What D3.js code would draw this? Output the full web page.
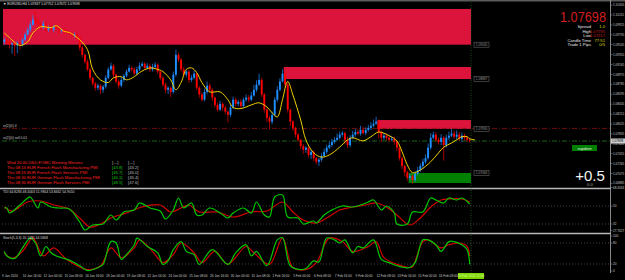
<!DOCTYPE html>
<html>
<head>
<meta charset="utf-8">
<script src="https://cdn.jsdelivr.net/npm/d3@7"></script>
<style>
html, body { margin: 0; padding: 0; background: #000; }
svg { display: block; font-family: "Liberation Sans", Arial, sans-serif; }
</style>
</head>
<body>
<svg id="chart" width="625" height="280"></svg>
<script>
// EURUSD H4 candles (close per bar, open = previous close)
const firstOpen = 1.0960;
const closes = [
  1.0964,1.0960,1.0955,1.0957,1.0953,1.0958,1.0955,1.0964,1.0974,1.0983,
  1.0993,1.1003,1.0999,1.0993,1.0987,1.0995,1.0983,1.0987,1.0983,1.0989,
  1.0985,1.0982,1.0983,1.0980,1.0978,1.0976,1.0972,1.0974,1.0968,1.0949,
  1.0935,1.0922,1.0907,1.0891,1.0880,1.0872,1.0876,1.0868,1.0874,1.0891,
  1.0907,1.0914,1.0897,1.0884,1.0876,1.0887,1.0895,1.0903,1.0910,1.0907,
  1.0899,1.0907,1.0914,1.0918,1.0910,1.0914,1.0907,1.0912,1.0916,1.0903,
  1.0891,1.0878,1.0868,1.0872,1.0864,1.0897,1.0935,1.0926,1.0907,1.0897,
  1.0903,1.0887,1.0891,1.0899,1.0872,1.0859,1.0849,1.0864,1.0876,1.0868,
  1.0853,1.0839,1.0830,1.0841,1.0834,1.0826,1.0820,1.0834,1.0849,1.0841,
  1.0845,1.0837,1.0849,1.0853,1.0849,1.0857,1.0868,1.0878,1.0887,1.0859,
  1.0830,1.0814,1.0807,1.0820,1.0849,1.0868,1.0884,1.0899,1.0878,1.0830,
  1.0807,1.0795,1.0782,1.0772,1.0760,1.0753,1.0757,1.0743,1.0749,1.0737,
  1.0730,1.0734,1.0741,1.0749,1.0757,1.0762,1.0768,1.0772,1.0776,1.0782,
  1.0785,1.0772,1.0762,1.0776,1.0782,1.0787,1.0784,1.0791,1.0785,1.0791,
  1.0795,1.0799,1.0803,1.0807,1.0787,1.0776,1.0780,1.0776,1.0772,1.0774,
  1.0768,1.0757,1.0737,1.0722,1.0710,1.0699,1.0703,1.0695,1.0707,1.0714,
  1.0722,1.0730,1.0737,1.0757,1.0776,1.0782,1.0772,1.0768,1.0776,1.0762,
  1.0776,1.0780,1.0784,1.0778,1.0782,1.0774,1.0780,1.0776,1.0772,1.0770
];
// wick lengths in pips above / below the body
const upWick = [
  4,3,5,2,3,4,2,3,4,5,6,8,15,6,4,5,3,4,6,3,
  4,3,2,3,5,3,2,4,3,2,3,2,4,3,2,3,4,2,3,5,
  4,6,3,2,4,5,3,4,6,3,4,5,6,4,3,5,4,6,5,3,
  2,3,4,3,2,6,10,4,3,5,4,3,5,6,2,3,4,6,8,4,
  3,2,4,6,3,4,2,5,6,4,3,5,4,6,5,7,9,8,12,4,
  3,2,4,6,5,7,6,8,4,3,2,3,2,3,2,4,3,2,4,3,
  2,4,5,6,5,7,6,5,8,6,4,3,6,5,7,6,5,8,6,5,
  6,7,8,9,4,3,5,4,3,5,4,3,2,3,2,3,4,2,5,6,
  5,6,7,8,9,6,5,4,7,3,6,8,9,6,8,5,6,4,3,4
];
const dnWick = [
  6,5,8,18,20,15,10,4,3,2,4,3,5,6,4,3,5,4,3,5,
  3,4,5,3,4,3,5,4,3,6,5,4,3,5,4,6,5,8,6,4,
  3,2,5,4,6,3,4,3,2,4,3,4,3,2,4,3,5,4,3,4,
  5,4,6,8,10,3,4,5,4,3,5,6,4,3,5,6,4,3,4,5,
  6,5,4,3,6,5,15,4,3,5,4,6,3,4,5,3,2,4,3,5,
  6,8,15,5,3,4,3,2,5,6,8,6,5,4,6,8,6,5,8,6,
  5,8,4,3,4,3,4,3,2,3,4,8,6,4,3,4,3,4,3,4,
  3,4,3,2,12,8,4,5,4,3,5,6,5,6,8,6,5,7,4,3,
  4,5,4,3,4,3,4,5,6,30,5,4,3,4,5,4,6,5,4,3
];

// moving average [bar, price]
const maPoints = [[0,1.0977],[2,1.0968],[6,1.0953],[9,1.0960],[11,1.0977],[14,1.0989],[18,1.0987],[20,1.0991],[23,1.0980],[25,1.0978],[29,1.0964],[32,1.0945],[34,1.0907],[37,1.0887],[40,1.0882],[42,1.0891],[45,1.0893],[47,1.0887],[50,1.0893],[52,1.0901],[56,1.0910],[59,1.0907],[61,1.0903],[64,1.0887],[66,1.0868],[68,1.0882],[70,1.0907],[72,1.0910],[74,1.0901],[76,1.0882],[79,1.0864],[83,1.0864],[86,1.0849],[88,1.0834],[91,1.0832],[95,1.0839],[98,1.0843],[101,1.0835],[103,1.0824],[105,1.0816],[107,1.0849],[109,1.0884],[111,1.0858],[114,1.0810],[116,1.0772],[119,1.0747],[122,1.0739],[125,1.0743],[129,1.0758],[132,1.0772],[134,1.0776],[138,1.0770],[141,1.0778],[144,1.0787],[148,1.0780],[151,1.0770],[153,1.0749],[155,1.0724],[157,1.0709],[160,1.0714],[164,1.0730],[167,1.0747],[169,1.0758],[172,1.0766],[174,1.0772],[176,1.0778],[178,1.0778],[179,1.0774],[181,1.0772]];

// TDI [bar, value]
const tdiFast = [[0,48],[1,48],[2,43],[6,51],[9,58],[10,59],[13,48],[14,54],[18,49],[21,48],[25,47],[29,34],[31,26],[34,31],[38,32],[41,41],[43,36],[46,44],[50,46],[52,53],[56,48],[60,45],[62,37],[65,46],[67,58],[69,48],[72,53],[74,41],[76,41],[79,48],[83,43],[86,38],[88,43],[92,48],[95,43],[97,54],[100,41],[102,39],[104,59],[107,61],[109,39],[113,38],[115,32],[119,35],[120,33],[123,41],[126,46],[130,50],[134,49],[137,51],[140,54],[142,56],[145,46],[147,50],[150,43],[151,32],[155,32],[157,44],[161,44],[164,58],[166,56],[169,53],[171,58],[174,56],[176,58],[179,52]];
const tdiSlow = [[0,49],[3,45],[9,54],[14,55],[19,51],[25,47],[29,38],[33,29],[37,32],[41,38],[47,43],[53,49],[60,51],[64,44],[68,48],[71,51],[75,44],[82,44],[88,39],[95,44],[101,45],[107,54],[111,44],[115,36],[120,33],[124,38],[129,46],[134,49],[139,51],[143,53],[147,49],[151,41],[156,31],[160,38],[164,49],[168,56],[171,57],[176,57],[179,54]];

// Stochastic [bar, value]
const stochMain = [[0,56],[1,43],[4,36],[7,66],[10,94],[12,80],[14,43],[16,70],[18,52],[20,43],[22,38],[25,31],[29,15],[32,1],[36,10],[38,19],[41,84],[43,80],[45,33],[47,47],[50,75],[51,94],[55,70],[59,52],[61,19],[63,29],[65,61],[68,84],[70,56],[73,47],[75,19],[80,61],[86,19],[89,52],[93,75],[95,43],[97,56],[101,15],[105,89],[107,95],[110,15],[114,4],[116,7],[119,29],[121,26],[124,94],[127,89],[129,80],[131,89],[134,52],[136,70],[138,66],[142,89],[145,33],[148,24],[151,15],[154,10],[156,10],[158,24],[161,89],[163,89],[166,75],[168,56],[171,84],[173,84],[176,75],[178,61],[179,19]];
const stochSignal = [[0,52],[3,36],[7,56],[11,94],[15,43],[19,66],[24,33],[32,4],[37,15],[41,66],[45,38],[50,66],[52,89],[57,56],[61,24],[65,47],[68,80],[73,52],[76,24],[81,56],[86,19],[93,70],[96,52],[102,19],[107,94],[111,10],[116,4],[120,24],[125,94],[130,84],[134,56],[140,70],[143,84],[146,38],[151,19],[156,10],[157,12],[161,84],[163,89],[168,66],[171,75],[175,80],[178,70],[179,42]];

// supply / demand zones
const zones = [
  { type: "supply", from: 0, hi: 1.1023, lo: 1.09545, label: "1.09545" },
  { type: "supply", from: 108, hi: 1.09117, lo: 1.08887, label: "1.08887" },
  { type: "supply", from: 144, hi: 1.0810, lo: 1.0793, label: "1.07930" },
  { type: "demand", from: 156, hi: 1.07084, lo: 1.06892, label: "1.07084" }
];
const resLine = { price: 1.0794, label: "sr(2)(0) 4" };
const bidLine = { price: 1.07698, label: "sr(2)(0) sell 0.01" };

const timeLabels = ["9 Jan 2024","10 Jan 16:00","12 Jan 00:00","15 Jan 08:00","16 Jan 16:00","18 Jan 00:00","19 Jan 08:00","22 Jan 16:00","24 Jan 00:00","25 Jan 08:00","26 Jan 16:00","30 Jan 00:00","31 Jan 08:00","1 Feb 16:00","5 Feb 00:00","6 Feb 08:00","7 Feb 16:00","9 Feb 00:00","12 Feb 08:00","13 Feb 16:00","15 Feb 00:00","16 Feb 08:00"];
const priceTicks = [1.06885,1.07075,1.07265,1.07455,1.07645,1.07835,1.08025,1.08215,1.08405,1.08595,1.08785,1.08975,1.09165,1.09355,1.09545,1.09735,1.09925,1.10115,1.10305];
const tdiTicks = [["68.4563",68.4],["50",50],["32",32],["27.7627",25.6]];
const stochTicks = [100, 80, 20, 0];

const infoRows = [["Spread","1.0"],["High","1.07795"],["Low","1.07617"],["Candle Time","77:51"],["Trade 1 Pips","0/5"]];
const newsRows = [
  ["Wed 20:00  USD  FOMC Meeting Minutes", "[---]", "[---]"],
  ["Thu 08:15  EUR  French Flash Manufacturing PMI", "[43.8]", "[43.2]"],
  ["Thu 08:15  EUR  French Flash Services PMI", "[45.7]", "[45.0]"],
  ["Thu 08:30  EUR  German Flash Manufacturing PMI", "[46.1]", "[45.4]"],
  ["Thu 08:30  EUR  German Flash Services PMI", "[48.5]", "[47.6]"]
];

const W = 625, H = 280;
const svg = d3.select("#chart");
svg.append("rect").attr("width", W).attr("height", H).attr("fill", "#000");
svg.append("rect").attr("width", W).attr("height", 1.5).attr("fill", "#5a5a5a");

// scales
const x = d3.scaleLinear().domain([0, 180]).range([3, 471]);
const yP = d3.scaleLinear().domain([1.0695, 1.0998]).range([180, 22]);
const yT = d3.scaleLinear().domain([32, 50]).range([224, 206]);
const yS = d3.scaleLinear().domain([0, 100]).range([271, 236]);

const defs = svg.append("defs");
defs.append("clipPath").attr("id", "cMain").append("rect").attr("x", 0).attr("y", 8).attr("width", 610).attr("height", 179);
defs.append("clipPath").attr("id", "cTdi").append("rect").attr("x", 0).attr("y", 190).attr("width", 610).attr("height", 42.5);
defs.append("clipPath").attr("id", "cSto").append("rect").attr("x", 0).attr("y", 235).attr("width", 610).attr("height", 37);

const main = svg.append("g").attr("clip-path", "url(#cMain)");

// zones
main.selectAll("rect.zone")
  .data(zones)
  .join("rect")
  .attr("class", "zone")
  .attr("x", d => x(d.from))
  .attr("width", d => x(180) - x(d.from))
  .attr("y", d => yP(d.hi))
  .attr("height", d => yP(d.lo) - yP(d.hi))
  .attr("fill", d => d.type === "supply" ? "#dc143c" : "#008000");

// horizontal dash-dot lines
main.append("line").attr("x1", 2).attr("x2", 610).attr("y1", yP(resLine.price)).attr("y2", yP(resLine.price))
  .attr("stroke", "#8b1010").attr("stroke-width", 0.8).attr("stroke-dasharray", "5,2,1,2");
main.append("line").attr("x1", 2).attr("x2", 610).attr("y1", yP(bidLine.price)).attr("y2", yP(bidLine.price))
  .attr("stroke", "#1f7a1f").attr("stroke-width", 0.8).attr("stroke-dasharray", "5,2,1,2");
main.append("text").attr("x", 3).attr("y", yP(resLine.price) - 1.5).attr("font-size", 3.3).attr("fill", "#c8c8c8").text(resLine.label);
main.append("text").attr("x", 3).attr("y", yP(bidLine.price) - 1.5).attr("font-size", 3.3).attr("fill", "#c8c8c8").text(bidLine.label);

// candles
const candles = closes.map((c, i) => {
  const o = i === 0 ? firstOpen : closes[i - 1];
  return { i, o, c, h: Math.max(o, c) + upWick[i] / 10000, l: Math.min(o, c) - dnWick[i] / 10000 };
});
const cg = main.selectAll("g.candle").data(candles).join("g").attr("class", "candle");
cg.append("line")
  .attr("x1", d => x(d.i + 0.5)).attr("x2", d => x(d.i + 0.5))
  .attr("y1", d => yP(d.h)).attr("y2", d => yP(d.l))
  .attr("stroke", d => d.c >= d.o ? "#1e88ff" : "#e80000").attr("stroke-width", 0.7);
cg.append("rect")
  .attr("x", d => x(d.i) + 0.35)
  .attr("width", 1.9)
  .attr("y", d => yP(Math.max(d.o, d.c)))
  .attr("height", d => Math.max(0.8, Math.abs(yP(d.o) - yP(d.c))))
  .attr("fill", d => d.c >= d.o ? "#1e90ff" : "#ff0000");

// moving average
main.append("path")
  .datum(maPoints)
  .attr("fill", "none").attr("stroke", "#f0d000").attr("stroke-width", 1)
  .attr("d", d3.line().x(d => x(d[0] + 0.5)).y(d => yP(d[1])).curve(d3.curveCatmullRom));

// zone labels
const zl = svg.selectAll("g.zl").data(zones).join("g").attr("class", "zl")
  .attr("transform", d => `translate(474,${(d.type === "supply" ? yP(d.lo) : yP(d.hi)) - 2.5})`);
zl.append("rect").attr("width", 15).attr("height", 5).attr("fill", "#000").attr("stroke", "#777").attr("stroke-width", 0.5);
zl.append("text").attr("x", 7.5).attr("y", 3.6).attr("text-anchor", "middle").attr("font-size", 3.2).attr("fill", "#999").text(d => d.label);

// title
svg.append("text").attr("x", 3).attr("y", 5.3).attr("font-size", 3.4).attr("fill", "#e0e0e0")
  .text("\u25BC EURUSD,H4  1.07637 1.07752 1.07672 1.07698");

// info block
svg.append("text").attr("x", 560).attr("y", 21.5).attr("font-size", 14)
  .attr("textLength", 46).attr("lengthAdjust", "spacingAndGlyphs")
  .attr("fill", "#d21e1e").text("1.07698");
const valColors = ["#d8d800", "#c01818", "#c01818", "#d8d800", "#d8d800"];
infoRows.forEach((r, k) => {
  const yy = 28.3 + k * 4.4;
  svg.append("text").attr("x", 591).attr("y", yy).attr("text-anchor", "end").attr("font-size", 4.2).attr("fill", "#e8e8e8").text(r[0]);
  svg.append("text").attr("x", 605).attr("y", yy).attr("text-anchor", "end").attr("font-size", 4.2).attr("fill", valColors[k]).text(r[1]);
});

// supdem button and pips
svg.append("rect").attr("x", 572).attr("y", 145).attr("width", 25).attr("height", 6).attr("fill", "#008000");
svg.append("text").attr("x", 584.5).attr("y", 149.5).attr("text-anchor", "middle").attr("font-size", 4).attr("fill", "#e8e8e8").text("supdem");
svg.append("text").attr("x", 590).attr("y", 180.5).attr("text-anchor", "middle").attr("font-size", 15).attr("fill", "#f4f4f4").text("+0.5");
svg.append("text").attr("x", 590).attr("y", 186).attr("text-anchor", "middle").attr("font-size", 4.2).attr("fill", "#aaa").text("0.0");

// news
newsRows.forEach((r, k) => {
  const yy = 164 + k * 5;
  svg.append("text").attr("x", 7).attr("y", yy).attr("font-size", 4.2).attr("fill", "#ff2424").text(r[0]);
  svg.append("text").attr("x", 112).attr("y", yy).attr("font-size", 4.2).attr("fill", k === 0 ? "#bdbdbd" : "#10c010").text(r[1]);
  svg.append("text").attr("x", 128).attr("y", yy).attr("font-size", 4.2).attr("fill", "#bdbdbd").text(r[2]);
});

// TDI panel
const tdi = svg.append("g").attr("clip-path", "url(#cTdi)");
[50, 32].forEach(v => tdi.append("line").attr("x1", 2).attr("x2", 610).attr("y1", yT(v)).attr("y2", yT(v))
  .attr("stroke", "#6a6a6a").attr("stroke-width", 0.6).attr("stroke-dasharray", "1,2"));
const lineT = d3.line().x(d => x(d[0] + 0.5)).y(d => yT(d[1])).curve(d3.curveCatmullRom);
tdi.append("path").datum(tdiSlow).attr("fill", "none").attr("stroke", "#d00000").attr("stroke-width", 1.2).attr("d", lineT);
tdi.append("path").datum(tdiFast).attr("fill", "none").attr("stroke", "#00c800").attr("stroke-width", 1.2).attr("d", lineT);
svg.append("text").attr("x", 3).attr("y", 193.2).attr("font-size", 3.4).attr("fill", "#d8d8d8")
  .text("TDI 64.8283 48.4063 51.9804 53.8462 54.9010");

// Stochastic panel
const sto = svg.append("g").attr("clip-path", "url(#cSto)");
[80, 20].forEach(v => sto.append("line").attr("x1", 2).attr("x2", 610).attr("y1", yS(v)).attr("y2", yS(v))
  .attr("stroke", "#6a6a6a").attr("stroke-width", 0.6).attr("stroke-dasharray", "1,2"));
const lineS = d3.line().x(d => x(d[0] + 0.5)).y(d => yS(d[1])).curve(d3.curveCatmullRom);
sto.append("path").datum(stochSignal).attr("fill", "none").attr("stroke", "#d00000").attr("stroke-width", 1.2).attr("d", lineS);
sto.append("path").datum(stochMain).attr("fill", "none").attr("stroke", "#00c800").attr("stroke-width", 1.2).attr("d", lineS);
svg.append("text").attr("x", 3).attr("y", 238.5).attr("font-size", 3.4).attr("fill", "#d8d8d8")
  .text("Stoch(5,3,3) 20.1485 44.5808");

// separators and frame
[188.5, 233.5].forEach(yy => svg.append("line").attr("x1", 0).attr("x2", 611).attr("y1", yy).attr("y2", yy)
  .attr("stroke", "#b8b8b8").attr("stroke-width", 1.4));
svg.append("line").attr("x1", 610.5).attr("x2", 610.5).attr("y1", 0).attr("y2", 273).attr("stroke", "#a8a8a8").attr("stroke-width", 0.8);
svg.append("line").attr("x1", 471).attr("x2", 471).attr("y1", 0).attr("y2", 273)
  .attr("stroke", "#2f6e2f").attr("stroke-width", 0.7).attr("stroke-dasharray", "1,1.5");

// right axes
const axisText = (yy, t) => {
  svg.append("line").attr("x1", 610.5).attr("x2", 612.5).attr("y1", yy).attr("y2", yy).attr("stroke", "#a8a8a8").attr("stroke-width", 0.5);
  svg.append("text").attr("x", 613).attr("y", yy + 1.1).attr("font-size", 3.1).attr("fill", "#c8c8c8").text(t);
};
priceTicks.forEach(p => { if (yP(p) > 3 && yP(p) < 187) axisText(yP(p), p.toFixed(5)); });
tdiTicks.forEach(t => axisText(yT(t[1]), t[0]));
stochTicks.forEach(v => axisText(yS(v), String(v)));

// current price box
svg.append("rect").attr("x", 611).attr("y", yP(bidLine.price) - 2.5).attr("width", 14).attr("height", 5).attr("fill", "#cfcfcf");
svg.append("text").attr("x", 612).attr("y", yP(bidLine.price) + 1.2).attr("font-size", 3.1).attr("fill", "#000").text("1.07698");

// time axis
svg.selectAll("text.tl")
  .data(timeLabels)
  .join("text")
  .attr("class", "tl")
  .attr("x", (d, k) => x(k * 8) - 1)
  .attr("y", 277)
  .attr("font-size", 3.2)
  .attr("fill", "#c8c8c8")
  .text(d => d);
svg.append("rect").attr("x", 458).attr("y", 273).attr("width", 26).attr("height", 6).attr("fill", "#7ed400");
svg.append("text").attr("x", 471).attr("y", 277.2).attr("text-anchor", "middle").attr("font-size", 3.2).attr("fill", "#d8ffb0").text("16 Feb 2024 12:00");
</script>
</body>
</html>
